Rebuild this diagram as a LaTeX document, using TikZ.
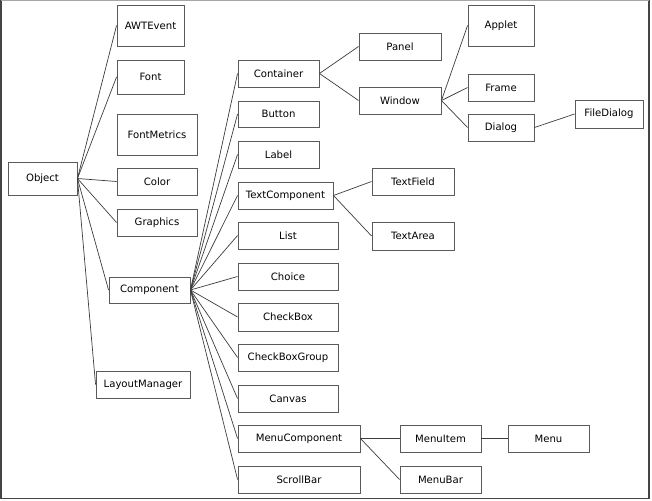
\documentclass[tikz,border=0pt]{standalone}
\usepackage{fontspec}
\setmainfont{DejaVu Sans}
\usepackage{xcolor}
\definecolor{boxline}{HTML}{5A5A5A}
\definecolor{edgeline}{HTML}{3C3C3C}
\definecolor{framedark}{HTML}{444444}

\tikzset{
  cls/.style={draw=boxline, line width=0.9pt, minimum height=27pt, inner sep=2pt,
    font=\fontsize{10.1}{12}\selectfont},
  link/.style={draw=edgeline, line width=0.7pt}
}

\begin{document}
\begin{tikzpicture}[x=1pt, y=-1pt]
\useasboundingbox (0,0) rectangle (652,500);
% outer frame
\draw[framedark, line width=1.6pt] (0.8,0.5) -- (0.8,498.5) -- (649.2,498.5) -- (649.2,0.5);
\draw[gray!70, line width=1pt] (0.8,0.5) -- (649.2,0.5);

% root and its direct children
\node[cls, minimum width=69pt, minimum height=33pt] (obj) at (42.5,178.5) {Object};
\node[cls, minimum width=67pt, minimum height=41pt] (awt) at (150.5,25.5) {AWTEvent};
\node[cls, minimum width=67pt, minimum height=34pt] (font) at (150.5,77) {Font};
\node[cls, minimum width=80pt, minimum height=41pt] (fmet) at (157,134.5) {FontMetrics};
\node[cls, minimum width=80pt] (color) at (157,181.5) {Color};
\node[cls, minimum width=80pt] (graph) at (157,222.5) {Graphics};
\node[cls, minimum width=81pt, minimum height=26pt] (comp) at (149.5,290) {Component};
\node[cls, minimum width=94pt] (layout) at (143,384.5) {LayoutManager};

% children of Component
\node[cls, minimum width=81pt] (cont) at (278.5,73.5) {Container};
\node[cls, minimum width=81pt, minimum height=26pt] (button) at (278.5,114) {Button};
\node[cls, minimum width=81pt] (label) at (278.5,154.5) {Label};
\node[cls, minimum width=95pt] (tcomp) at (285.5,195.5) {TextComponent};
\node[cls, minimum width=100pt] (list) at (288,235.5) {List};
\node[cls, minimum width=100pt] (choice) at (288,276.5) {Choice};
\node[cls, minimum width=100pt, minimum height=28pt] (cbox) at (288,317) {CheckBox};
\node[cls, minimum width=100pt] (cbgroup) at (288,357.5) {CheckBoxGroup};
\node[cls, minimum width=100pt] (canvas) at (288,398.5) {Canvas};
\node[cls, minimum width=122pt] (mcomp) at (299,438.5) {MenuComponent};
\node[cls, minimum width=122pt] (scroll) at (299,479.5) {ScrollBar};

% deeper levels
\node[cls, minimum width=82pt] (panel) at (400,46.5) {Panel};
\node[cls, minimum width=82pt] (window) at (400,100.5) {Window};
\node[cls, minimum width=66pt, minimum height=41pt] (applet) at (501,25.5) {Applet};
\node[cls, minimum width=66pt] (frame) at (501,87.5) {Frame};
\node[cls, minimum width=66pt] (dialog) at (501,127.5) {Dialog};
\node[cls, minimum width=68pt, minimum height=28pt] (fdialog) at (609,114) {FileDialog};
\node[cls, minimum width=82pt] (tfield) at (413,181.5) {TextField};
\node[cls, minimum width=82pt, minimum height=28pt] (tarea) at (413,236) {TextArea};
\node[cls, minimum width=81pt] (mitem) at (440.5,438.5) {MenuItem};
\node[cls, minimum width=81pt] (menu) at (548.5,438.5) {Menu};
\node[cls, minimum width=81pt] (mbar) at (440.5,479.5) {MenuBar};

% connectors
\foreach \c in {awt,font,color,graph,comp,layout}
  \draw[link] (obj.east) -- (\c.west);
\foreach \c in {cont,button,label,tcomp,list,choice,cbox,cbgroup,canvas,mcomp,scroll}
  \draw[link] (comp.east) -- (\c.west);
\draw[link] (cont.east) -- (panel.west);
\draw[link] (cont.east) -- (window.west);
\foreach \c in {applet,frame,dialog}
  \draw[link] (window.east) -- (\c.west);
\draw[link] (dialog.east) -- (fdialog.west);
\draw[link] (tcomp.east) -- (tfield.west);
\draw[link] (tcomp.east) -- (tarea.west);
\draw[link] (mcomp.east) -- (mitem.west);
\draw[link] (mcomp.east) -- (mbar.west);
\draw[link] (mitem.east) -- (menu.west);
\end{tikzpicture}
\end{document}
